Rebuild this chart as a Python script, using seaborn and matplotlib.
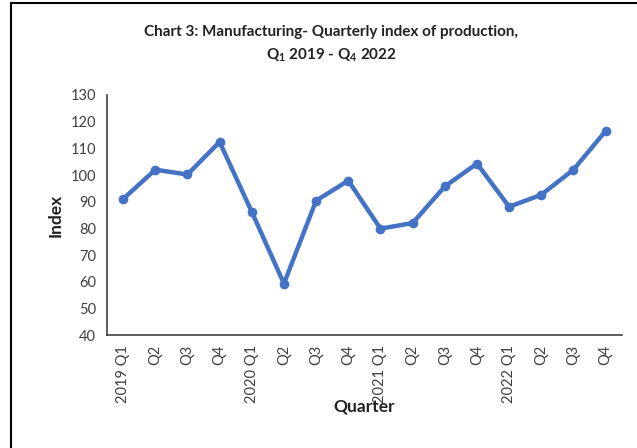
import matplotlib
matplotlib.use("Agg")
import matplotlib.pyplot as plt
import seaborn as sns
import pandas as pd
from matplotlib.lines import Line2D

# Data
quarters = ["2019 Q1", "Q2", "Q3", "Q4",
            "2020 Q1", "Q2", "Q3", "Q4",
            "2021 Q1", "Q2", "Q3", "Q4",
            "2022 Q1", "Q2", "Q3", "Q4"]
index_values = [91.0, 102.0, 100.2, 112.4,
                86.2, 59.3, 90.4, 97.9,
                79.9, 82.0, 95.7, 104.3,
                88.1, 92.6, 102.0, 116.5]

df = pd.DataFrame({"pos": range(len(quarters)), "Index": index_values})

sns.set_theme(style="white")
plt.rcParams["font.family"] = ["Lato", "DejaVu Sans"]

fig = plt.figure(figsize=(6.37, 4.48), dpi=100)
ax = fig.add_axes([0.168, 0.252, 0.808, 0.536])

sns.lineplot(data=df, x="pos", y="Index", ax=ax, color="#4472C4",
             linewidth=3.2, marker="o", markersize=7, markeredgewidth=0)

ax.set_xlim(-0.5, 15.5)
ax.set_ylim(40, 130)
ax.set_yticks(range(40, 131, 10))
ax.set_xticks(range(len(quarters)))
ax.set_xticklabels(quarters, rotation=90, fontsize=10.5, color="#404040")
ax.tick_params(axis="y", labelsize=10.5, labelcolor="#404040", length=0, pad=8)
ax.tick_params(axis="x", length=0, pad=7)

for s in ["top", "right"]:
    ax.spines[s].set_visible(False)
for s in ["left", "bottom"]:
    ax.spines[s].set_color("#404040")
    ax.spines[s].set_linewidth(1.2)

ax.set_xlabel("Quarter", fontsize=12.5, fontweight="bold", color="#222222", labelpad=-3)
ax.set_ylabel("Index", fontsize=12.5, fontweight="bold", color="#222222", labelpad=5)

fig.text(0.52, 0.928, "Chart 3: Manufacturing- Quarterly index of production,",
         ha="center", va="center", fontsize=11, fontweight="bold", color="#222222")
fig.text(0.52, 0.876, "Q$_\\mathregular{1}$ 2019 - Q$_\\mathregular{4}$ 2022",
         ha="center", va="center", fontsize=11, fontweight="bold", color="#222222")

# frame lines at the left and top of the picture
fig.add_artist(Line2D([0.017, 0.017], [0.0, 0.993], transform=fig.transFigure,
                      color="black", linewidth=1.5))
fig.add_artist(Line2D([0.017, 1.0], [0.993, 0.993], transform=fig.transFigure,
                      color="black", linewidth=1.5))

fig.savefig("out.png", dpi=100, facecolor="white")
